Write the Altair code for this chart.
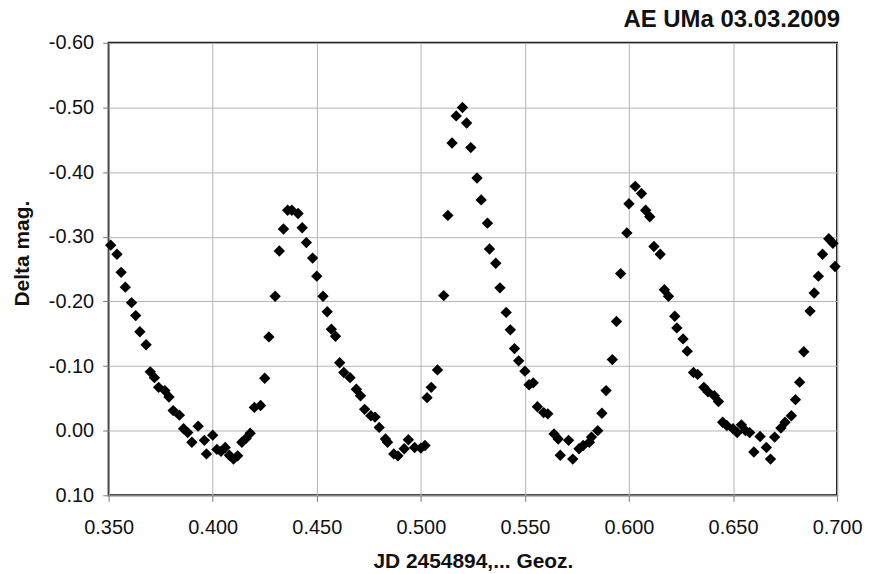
import altair as alt
import pandas as pd

jd = [
    0.351, 0.354, 0.356, 0.358, 0.361, 0.363, 0.365, 0.368, 0.370, 0.372,
    0.374, 0.377, 0.379, 0.381, 0.384, 0.386, 0.388, 0.390, 0.393, 0.396,
    0.397, 0.400, 0.402, 0.404, 0.406, 0.408, 0.410, 0.412, 0.414, 0.416,
    0.418, 0.420, 0.423, 0.425, 0.427, 0.430, 0.432, 0.434, 0.436, 0.438,
    0.441, 0.443, 0.445, 0.448, 0.450, 0.453, 0.455, 0.457, 0.459, 0.461,
    0.463, 0.466, 0.469, 0.471, 0.473, 0.476, 0.478, 0.480, 0.483, 0.484,
    0.487, 0.489, 0.492, 0.494, 0.497, 0.500, 0.502, 0.503, 0.505, 0.508,
    0.511, 0.513, 0.515, 0.517, 0.520, 0.522, 0.524, 0.527, 0.529, 0.532,
    0.533, 0.536, 0.538, 0.541, 0.543, 0.545, 0.547, 0.550, 0.552, 0.554,
    0.556, 0.559, 0.561, 0.564, 0.566, 0.567, 0.571, 0.573, 0.576, 0.578,
    0.581, 0.582, 0.585, 0.587, 0.589, 0.592, 0.594, 0.596, 0.599, 0.600,
    0.603, 0.606, 0.608, 0.610, 0.612, 0.615, 0.617, 0.619, 0.622, 0.623,
    0.626, 0.628, 0.631, 0.633, 0.636, 0.638, 0.641, 0.643, 0.645, 0.647,
    0.650, 0.652, 0.654, 0.656, 0.658, 0.660, 0.663, 0.666, 0.668, 0.670,
    0.673, 0.675, 0.678, 0.680, 0.682, 0.684, 0.687, 0.689, 0.691, 0.693,
    0.696, 0.698, 0.699,
]
delta_mag = [
    -0.287, -0.273, -0.245, -0.222, -0.198, -0.178, -0.153, -0.133, -0.091, -0.082,
    -0.067, -0.062, -0.052, -0.031, -0.024, -0.003, 0.003, 0.018, -0.007, 0.015,
    0.036, 0.007, 0.029, 0.032, 0.026, 0.038, 0.044, 0.039, 0.018, 0.012,
    0.004, -0.036, -0.039, -0.081, -0.145, -0.208, -0.278, -0.312, -0.341, -0.341,
    -0.336, -0.314, -0.291, -0.267, -0.239, -0.208, -0.184, -0.157, -0.146, -0.105,
    -0.090, -0.082, -0.064, -0.054, -0.033, -0.023, -0.021, -0.005, 0.013, 0.018,
    0.036, 0.039, 0.028, 0.014, 0.026, 0.027, 0.023, -0.051, -0.067, -0.094,
    -0.209, -0.333, -0.445, -0.487, -0.500, -0.476, -0.438, -0.391, -0.357, -0.321,
    -0.281, -0.259, -0.221, -0.183, -0.156, -0.127, -0.108, -0.092, -0.071, -0.074,
    -0.037, -0.028, -0.026, 0.005, 0.013, 0.038, 0.015, 0.044, 0.028, 0.023,
    0.018, 0.010, 0.000, -0.027, -0.062, -0.110, -0.169, -0.243, -0.306, -0.351,
    -0.378, -0.367, -0.341, -0.331, -0.285, -0.273, -0.218, -0.208, -0.177, -0.159,
    -0.142, -0.123, -0.090, -0.087, -0.067, -0.060, -0.054, -0.045, -0.013, -0.008,
    -0.003, 0.003, -0.009, 0.000, 0.003, 0.033, 0.009, 0.026, 0.044, 0.010,
    -0.004, -0.013, -0.023, -0.048, -0.075, -0.122, -0.185, -0.213, -0.239, -0.273,
    -0.297, -0.290, -0.254,
]

x_ticks = [0.35, 0.40, 0.45, 0.50, 0.55, 0.60, 0.65, 0.70]
y_ticks = [-0.6, -0.5, -0.4, -0.3, -0.2, -0.1, 0.0, 0.1]

df = pd.DataFrame({"jd": jd, "mag": delta_mag})

FONT = "Liberation Sans"

chart = (
    alt.Chart(df)
    .mark_point(shape="diamond", filled=True, color="#000000", opacity=1, size=130)
    .encode(
        x=alt.X(
            "jd:Q",
            scale=alt.Scale(domain=[0.35, 0.70], nice=False, zero=False),
            axis=alt.Axis(
                values=x_ticks,
                format=".3f",
                title="JD 2454894,... Geoz.",
                titleY=66,
                titleBaseline="middle",
                labelPadding=16,
                labelFlush=False,
            ),
        ),
        y=alt.Y(
            "mag:Q",
            scale=alt.Scale(domain=[-0.6, 0.1], nice=False, zero=False, reverse=True),
            axis=alt.Axis(
                values=y_ticks,
                labelExpr="(datum.value < -0.0001 ? '-' : '') + format(abs(datum.value), '.2f')",
                title="Delta mag.",
                titleX=-86,
                titleY=211,
                titleBaseline="middle",
                titleAlign="center",
                labelPadding=9,
                labelFlush=False,
            ),
        ),
    )
    .properties(
        width=731,
        height=454,
        autosize="none",
        padding={"left": 101, "top": 34, "right": 28, "bottom": 78},
        title=alt.TitleParams(
            "AE UMa 03.03.2009",
            anchor="end",
            frame="group",
            fontSize=24,
            fontWeight="bold",
            font=FONT,
            color="#111111",
            offset=1,
            dx=3,
        ),
    )
    .configure_view(stroke="#111111", strokeWidth=2)
    .configure_axis(
        labelFont=FONT,
        labelFontSize=20,
        labelColor="#111111",
        titleFont=FONT,
        titleFontSize=21,
        titleFontWeight="bold",
        titleColor="#111111",
        gridColor="#b4b4b4",
        gridWidth=1,
        gridOpacity=1,
        domain=False,
        tickColor="#777777",
        tickSize=6,
        tickWidth=1,
    )
)

chart.save("out.html", embed_options={"renderer": "svg", "actions": False})
